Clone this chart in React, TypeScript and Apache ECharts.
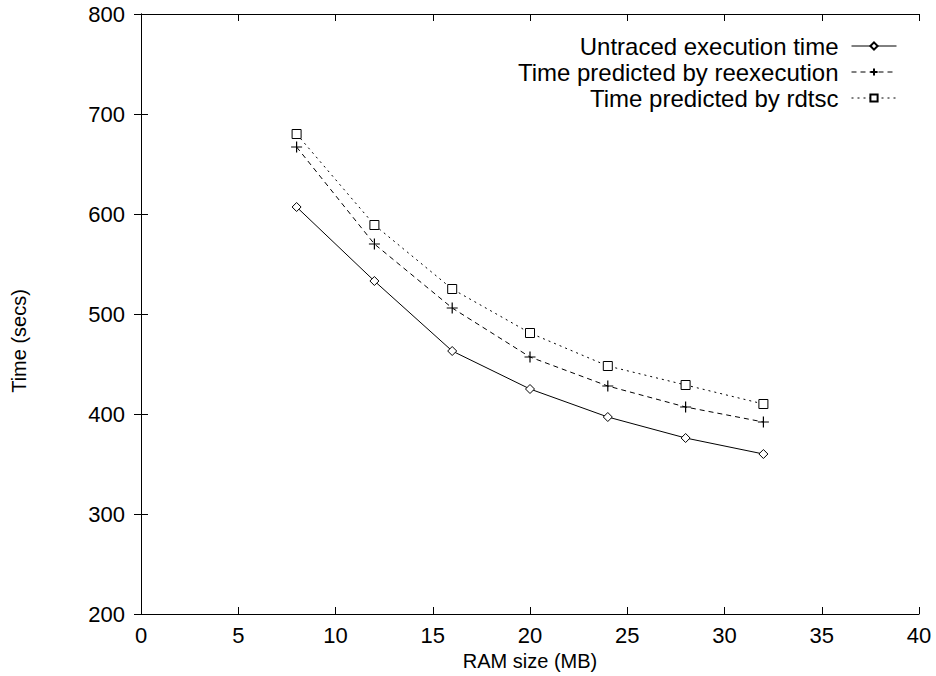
import React, { useEffect, useRef } from "react";
import * as echarts from "echarts";

const ramSizes = [8, 12, 16, 20, 24, 28, 32];
const untracedTime = [607, 533, 463, 425, 397, 376, 360];
const reexecPredicted = [667, 570, 506, 457, 428, 407, 392];
const rdtscPredicted = [680, 589, 525, 481, 448, 429, 410];

const seriesNames = [
  "Untraced execution time",
  "Time predicted by reexecution",
  "Time predicted by rdtsc",
];
const xAxisTitle = "RAM size (MB)";
const yAxisTitle = "Time (secs)";

const FONT = '"Liberation Sans", Arial, Helvetica, sans-serif';

const pairs = (ys: number[]) => ramSizes.map((x, i) => [x, ys[i]]);

export default function App() {
  const ref = useRef<HTMLDivElement>(null);
  useEffect(() => {
    if (!ref.current) return;
    const chart = echarts.init(ref.current, undefined, { renderer: "svg" });
    const axisCommon = {
      axisLine: { show: true, lineStyle: { color: "#000", width: 1 } },
      axisTick: { show: true, inside: true, length: 7, lineStyle: { color: "#000" } },
      splitLine: { show: false },
    };
    chart.setOption({
      animation: false,
      backgroundColor: "#fff",
      textStyle: { fontFamily: FONT, color: "#000" },
      grid: { left: 141, right: 17, top: 14, bottom: 62, containLabel: false },
      legend: {
        orient: "vertical",
        align: "right",
        right: 34,
        top: 29,
        padding: 5,
        itemWidth: 45,
        itemHeight: 9,
        itemGap: 2,
        lineStyle: { width: 1 },
        textStyle: {
          fontSize: 24,
          lineHeight: 22,
          color: "#000",
          fontFamily: FONT,
          padding: [0, 8, 0, 0],
        },
        data: seriesNames,
      },
      graphic: [
        {
          type: "text",
          x: 19,
          y: 341,
          rotation: Math.PI / 2,
          style: {
            text: yAxisTitle,
            fontSize: 20,
            fontFamily: FONT,
            fill: "#000",
            textAlign: "center",
            textVerticalAlign: "middle",
          },
        },
      ],
      xAxis: [
        {
          type: "value",
          min: 0,
          max: 40,
          interval: 5,
          position: "bottom",
          ...axisCommon,
          axisLabel: { fontSize: 22, color: "#000", margin: 10, fontFamily: FONT },
          name: xAxisTitle,
          nameLocation: "middle",
          nameGap: 36,
          nameTextStyle: { fontSize: 20, color: "#000", fontFamily: FONT },
        },
        {
          type: "value",
          min: 0,
          max: 40,
          interval: 5,
          position: "top",
          ...axisCommon,
          axisLabel: { show: false },
        },
      ],
      yAxis: [
        {
          type: "value",
          min: 200,
          max: 800,
          interval: 100,
          position: "left",
          ...axisCommon,
          axisLabel: { fontSize: 22, color: "#000", margin: 16, fontFamily: FONT },
        },
        {
          type: "value",
          min: 200,
          max: 800,
          interval: 100,
          position: "right",
          ...axisCommon,
          axisLabel: { show: false },
        },
      ],
      series: [
        {
          name: seriesNames[0],
          type: "line",
          data: pairs(untracedTime),
          symbol: "diamond",
          symbolSize: 9,
          lineStyle: { color: "#000", width: 1, type: "solid" },
          itemStyle: { color: "#fff", borderColor: "#000", borderWidth: 1 },
        },
        {
          name: seriesNames[1],
          type: "line",
          data: pairs(reexecPredicted),
          symbol: "path://M0,5L10,5M5,0L5,10",
          symbolSize: 11,
          lineStyle: { color: "#000", width: 1, type: [5, 4] },
          itemStyle: { color: "#000", borderColor: "#000", borderWidth: 1.2 },
        },
        {
          name: seriesNames[2],
          type: "line",
          data: pairs(rdtscPredicted),
          symbol: "rect",
          symbolSize: 9,
          lineStyle: { color: "#000", width: 1, type: [2, 4] },
          itemStyle: { color: "#fff", borderColor: "#000", borderWidth: 1 },
        },
      ],
    });
    return () => chart.dispose();
  }, []);
  return (
    <div
      ref={ref}
      style={{ position: "fixed", left: 0, top: 0, width: 936, height: 676 }}
    />
  );
}
